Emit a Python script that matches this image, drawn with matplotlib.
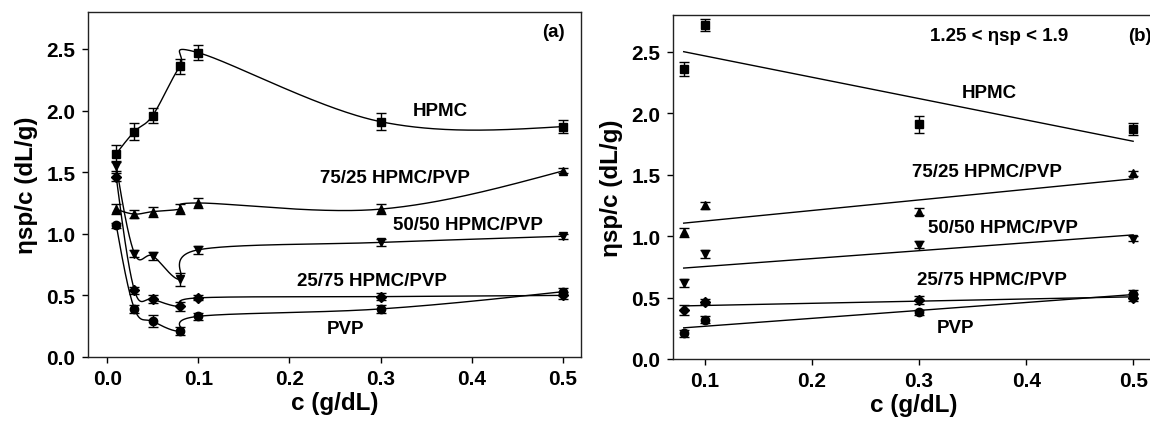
import numpy as np
import matplotlib
matplotlib.use("Agg")
import matplotlib.pyplot as plt

plt.rcParams['font.family'] = ['Liberation Sans', 'DejaVu Sans']
plt.rcParams['font.weight'] = 'bold'

# ---------------- data ----------------
series_names = ["HPMC", "75/25 HPMC/PVP", "50/50 HPMC/PVP", "25/75 HPMC/PVP", "PVP"]
markers = ['s', '^', 'v', 'D', 'o']

# panel (a)
c_a = [0.01, 0.03, 0.05, 0.08, 0.10, 0.30, 0.50]
hpmc_a = [1.65, 1.83, 1.96, 2.36, 2.47, 1.91, 1.87]
b7525_a = [1.20, 1.16, 1.18, 1.20, 1.25, 1.20, 1.51]
b5050_a = [1.55, 0.84, 0.82, 0.63, 0.87, 0.93, 0.98]
b2575_a = [1.46, 0.54, 0.47, 0.41, 0.48, 0.49, 0.50]
pvp_a = [1.07, 0.39, 0.29, 0.21, 0.33, 0.39, 0.53]
err_hpmc_a = [0.07, 0.07, 0.06, 0.06, 0.06, 0.07, 0.05]
err_7525_a = [0.04, 0.03, 0.04, 0.04, 0.04, 0.04, 0.02]
err_5050_a = [0.04, 0.03, 0.03, 0.05, 0.03, 0.03, 0.02]
err_2575_a = [0.03, 0.03, 0.03, 0.04, 0.02, 0.03, 0.03]
err_pvp_a = [0.02, 0.03, 0.05, 0.03, 0.03, 0.03, 0.03]

# panel (b)
c_b = [0.08, 0.10, 0.30, 0.50]
hpmc_b = [2.36, 2.72, 1.91, 1.87]
b7525_b = [1.03, 1.25, 1.20, 1.51]
b5050_b = [0.62, 0.855, 0.93, 0.98]
b2575_b = [0.40, 0.465, 0.48, 0.50]
pvp_b = [0.21, 0.32, 0.38, 0.53]
err_hpmc_b = [0.06, 0.05, 0.07, 0.05]
err_7525_b = [0.04, 0.03, 0.03, 0.02]
err_5050_b = [0.03, 0.03, 0.03, 0.02]
err_2575_b = [0.04, 0.02, 0.03, 0.03]
err_pvp_b = [0.03, 0.03, 0.02, 0.03]

xticks_a = [0.0, 0.1, 0.2, 0.3, 0.4, 0.5]
xticks_b = [0.1, 0.2, 0.3, 0.4, 0.5]
yticks = [0.0, 0.5, 1.0, 1.5, 2.0, 2.5]


def catmull_rom(x, y, sx, sy, nseg=80):
    """Uniform Catmull-Rom curve through the points, in screen-like units."""
    P = np.column_stack([np.asarray(x, float) * sx, np.asarray(y, float) * sy])
    n = len(P)
    m = np.zeros_like(P)
    m[1:-1] = (P[2:] - P[:-2]) / 2
    m[0] = (3 * (P[1] - P[0]) - m[1]) / 2
    m[-1] = (3 * (P[-1] - P[-2]) - m[-2]) / 2
    t = np.linspace(0, 1, nseg)[:, None]
    h00 = 2 * t**3 - 3 * t**2 + 1
    h10 = t**3 - 2 * t**2 + t
    h01 = -2 * t**3 + 3 * t**2
    h11 = t**3 - t**2
    pts = []
    for i in range(n - 1):
        seg = h00 * P[i] + h10 * m[i] + h01 * P[i + 1] + h11 * m[i + 1]
        pts.append(seg if i == 0 else seg[1:])
    pts = np.vstack(pts)
    return pts[:, 0] / sx, pts[:, 1] / sy


W, H = 1150, 427
fig = plt.figure(figsize=(W / 100, H / 100), dpi=100)
axA = fig.add_axes([88 / W, (H - 358) / H, 493 / W, 345 / H])
axB = fig.add_axes([673 / W, (H - 360) / H, 481 / W, 344 / H])

lw = 1.0
ms = 6
cap = 3.5
fs_lab = 13.5

# ---- panel (a)
ys_a = [hpmc_a, b7525_a, b5050_a, b2575_a, pvp_a]
es_a = [err_hpmc_a, err_7525_a, err_5050_a, err_2575_a, err_pvp_a]
for y, e, m in zip(ys_a, es_a, markers):
    sx_, sy_ = catmull_rom(c_a, y, 910, 123)
    axA.plot(sx_, sy_, color='black', lw=lw)
    axA.errorbar(c_a, y, yerr=e, fmt=m, color='black', ms=ms if m != 'D' else ms - 0.5,
                 capsize=cap, elinewidth=lw, capthick=lw)

axA.set_xlim(-0.021, 0.52)
axA.set_ylim(0, 2.8)
axA.set_xticks(xticks_a)
axA.set_xticklabels([f"{v:.1f}" for v in xticks_a])
axA.text(0.366, 2.00, "HPMC", ha='center', va='center', fontsize=fs_lab, fontweight='bold')
axA.text(0.316, 1.455, "75/25 HPMC/PVP", ha='center', va='center', fontsize=fs_lab, fontweight='bold')
axA.text(0.396, 1.073, "50/50 HPMC/PVP", ha='center', va='center', fontsize=fs_lab, fontweight='bold')
axA.text(0.291, 0.618, "25/75 HPMC/PVP", ha='center', va='center', fontsize=fs_lab, fontweight='bold')
axA.text(0.262, 0.228, "PVP", ha='center', va='center', fontsize=fs_lab, fontweight='bold')
axA.text(0.49, 2.64, "(a)", ha='center', va='center', fontsize=fs_lab, fontweight='bold')

# ---- panel (b)
ys_b = [hpmc_b, b7525_b, b5050_b, b2575_b, pvp_b]
es_b = [err_hpmc_b, err_7525_b, err_5050_b, err_2575_b, err_pvp_b]
cb = np.asarray(c_b)
for y, e, m in zip(ys_b, es_b, markers):
    k, q = np.polyfit(cb, np.asarray(y), 1)
    xl = np.array([cb.min(), cb.max()])
    axB.plot(xl, k * xl + q, color='black', lw=lw)
    axB.errorbar(c_b, y, yerr=e, fmt=m, color='black', ms=ms if m != 'D' else ms - 0.5,
                 capsize=cap, elinewidth=lw, capthick=lw)

axB.set_xlim(0.070, 0.5195)
axB.set_ylim(0, 2.8)
axB.set_xticks(xticks_b)
axB.set_xticklabels([f"{v:.1f}" for v in xticks_b])
axB.text(0.375, 2.63, "1.25 < ηsp < 1.9", ha='center', va='center', fontsize=fs_lab, fontweight='bold')
axB.text(0.495, 2.63, "(b)", ha='left', va='center', fontsize=fs_lab, fontweight='bold')
axB.text(0.366, 2.166, "HPMC", ha='center', va='center', fontsize=fs_lab, fontweight='bold')
axB.text(0.3636, 1.53, "75/25 HPMC/PVP", ha='center', va='center', fontsize=fs_lab, fontweight='bold')
axB.text(0.378, 1.067, "50/50 HPMC/PVP", ha='center', va='center', fontsize=fs_lab, fontweight='bold')
axB.text(0.368, 0.651, "25/75 HPMC/PVP", ha='center', va='center', fontsize=fs_lab, fontweight='bold')
axB.text(0.334, 0.26, "PVP", ha='center', va='center', fontsize=fs_lab, fontweight='bold')

for ax in (axA, axB):
    ax.set_yticks(yticks)
    ax.set_yticklabels([f"{v:.1f}" for v in yticks])
    ax.tick_params(direction='out', length=4, width=1, labelsize=15, pad=5)
    for lab in ax.get_xticklabels() + ax.get_yticklabels():
        lab.set_fontweight('bold')
    for s in ax.spines.values():
        s.set_linewidth(1.0)
        s.set_color('#222222')
    ax.set_xlabel("c (g/dL)", fontsize=17.5, fontweight='bold', labelpad=2)
    ax.set_ylabel("ηsp/c (dL/g)", fontsize=17.5, fontweight='bold', labelpad=6)

fig.savefig("out.png", dpi=100)
